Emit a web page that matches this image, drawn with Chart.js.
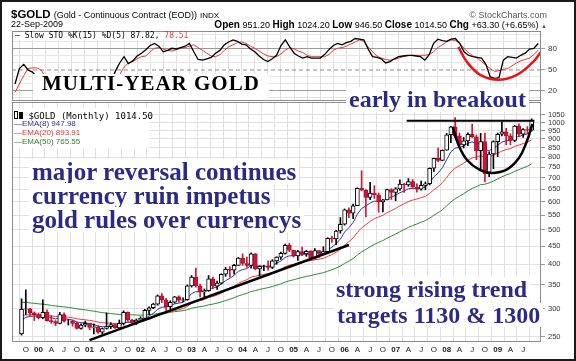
<!DOCTYPE html>
<html lang="en">
  <head>
    <title>$GOLD Monthly</title>
    <meta charset="utf-8">
    <script type="text/javascript" src="https://cdn.jsdelivr.net/npm/chart.js@4.4.1/dist/chart.umd.min.js"></script>
    <style>
      body { margin: 0; background: #fff; }
      #page { position: relative; width: 576px; height: 361px; overflow: hidden; background: #fff;
              font-family: "Liberation Sans", Arial, sans-serif; color: #000; }
      #page canvas { position: absolute; left: 0; top: 0; }
      .txt { position: absolute; white-space: nowrap; line-height: 1; }
      .mono { font-family: "DejaVu Sans Mono", monospace; }
      .serif { font-family: "Liberation Serif", "Times New Roman", serif; font-weight: bold; }
      .blue { color: #2b2b86; background: #fff; padding: 0 3px; }
      #border { position: absolute; left: 0; top: 0; width: 576px; height: 361px; box-sizing: border-box;
                border: 2px solid #1a1a1a; pointer-events: none; }
    </style>
  </head>
  <body>
  <div id="page">
    <canvas id="chart_sto" width="576" height="361"></canvas>
    <canvas id="chart_gold" width="576" height="361"></canvas>

    <!-- header -->
    <div class="txt" style="left:11px; top:9px; font-size:11.5px;"><b>$GOLD</b> <span style="font-size:9px">(Gold - Continuous Contract (EOD))</span> <span style="font-size:8px">INDX</span></div>
    <div class="txt" style="right:29px; top:11px; font-size:9px; color:#555;">&copy; StockCharts.com</div>
    <div class="txt" style="left:11px; top:20px; font-size:9px;">22-Sep-2009</div>
    <div class="txt" style="right:29px; top:19.5px; font-size:9px;"><b style="font-size:10px">Open</b> 951.20 <b style="font-size:10px">High</b> 1024.20 <b style="font-size:10px">Low</b> 946.50 <b style="font-size:10px">Close</b> 1014.50 <b style="font-size:10px">Chg</b> +63.30 (+6.65%) <span style="font-size:6px; color:#555">&#9650;</span></div>

    <!-- legends -->
    <div class="txt mono" style="left:13px; top:32px; font-size:8px; background:#fff; padding:0 2px;">&mdash; Slow STO %K(15) %D(5) 87.82, <span style="color:#e03a3a">78.51</span></div>
    <div style="position:absolute; left:13px; top:108px; width:136px; height:40px; background:#fff;"></div>
    <div class="txt mono" style="left:14px; top:110.5px; font-size:9px;"><span style="display:inline-block;width:2px;height:6px;border:1px solid #000;vertical-align:0"></span><span style="display:inline-block;width:2px;height:5px;background:#000;border:1px solid #000;vertical-align:0;margin-left:1px"></span> $GOLD (Monthly) 1014.50</div>
    <div class="txt" style="left:14px; top:120.2px; font-size:8px; color:#2f2f9e;">&mdash;EMA(8) 947.98</div>
    <div class="txt" style="left:14px; top:129.2px; font-size:8px; color:#e03434;">&mdash;EMA(20) 893.91</div>
    <div class="txt" style="left:14px; top:138.2px; font-size:8px; color:#2f7f2f;">&mdash;EMA(50) 765.55</div>

    <!-- annotations -->
    <div style="position:absolute; left:33px; top:74px; width:236px; height:26px; background:#fff;"></div>
    <div class="txt serif" style="left:42px; top:73.4px; font-size:21px; letter-spacing:1px;">MULTI-YEAR GOLD</div>
    <div class="txt serif blue" style="left:346px; top:86.9px; font-size:24px; height:25px;">early in breakout</div>
    <div class="txt serif blue" style="left:29px; top:159px; font-size:25px;">major reversal continues</div>
    <div class="txt serif blue" style="left:29px; top:183px; font-size:25px;">currency ruin impetus</div>
    <div class="txt serif blue" style="left:29px; top:207px; font-size:25px;">gold rules over currencys</div>
    <div class="txt serif blue" style="left:333px; top:277px; font-size:24px;">strong rising trend</div>
    <div class="txt serif blue" style="left:334px; top:303px; font-size:24px;">targets 1130 &amp; 1300</div>

    <div id="border"></div>
  </div>

  <script language="javascript" type="text/javascript">

    // monthly bars, index 0 = Sep 1999 ... index 120 = Sep 2009
    const opens = [
      255, 299, 300, 292,
      289, 283, 293, 278, 276, 273, 289, 277, 277, 273, 264, 270,
      273, 266, 267, 258, 264, 267, 271, 265, 273, 293, 279, 275,
      279, 282, 297, 302, 309, 326, 318, 304, 313, 324, 317, 318,
      348, 368, 348, 335, 337, 364, 347, 354, 375, 387, 385, 397,
      416, 402, 397, 428, 388, 395, 395, 392, 409, 419, 429, 452,
      438, 422, 434, 428, 435, 416, 437, 430, 434, 473, 471, 496,
      518, 569, 557, 584, 654, 646, 616, 634, 627, 599, 606, 648,
      636, 651, 672, 668, 683, 659, 650, 666, 673, 744, 794, 783,
      836, 924, 972, 917, 865, 888, 927, 912, 834, 884, 718, 816,
      884, 927, 942, 917, 891, 978, 927, 955, 951.2
    ];
    const highs = [
      320, 339, 301, 294,
      292, 318, 298, 287, 278, 293, 292, 280, 279, 275, 272, 277,
      273, 272, 269, 265, 292, 274, 272, 279, 296, 294, 280, 281,
      285, 299, 304, 311, 328, 331, 321, 316, 325, 326, 322, 350,
      372, 390, 352, 341, 372, 368, 359, 376, 392, 394, 400, 418,
      428, 419, 431, 429, 396, 397, 409, 412, 420, 433, 456, 458,
      438, 438, 447, 438, 437, 443, 438, 448, 475, 480, 498, 541,
      572, 576, 590, 656, 732, 648, 679, 665, 634, 609, 650, 652,
      657, 690, 675, 696, 692, 673, 685, 681, 746, 795, 848, 838,
      932, 975, 1033, 934, 908, 936, 990, 923, 932, 934, 828, 889,
      934, 1007, 963, 930, 982, 991, 962, 974, 1024.2
    ];
    const lows = [
      253, 289, 287, 278,
      281, 281, 277, 273, 269, 272, 275, 270, 268, 263, 263, 267,
      262, 255, 256, 255, 263, 264, 264, 264, 270, 277, 270, 271,
      277, 281, 289, 300, 307, 312, 297, 300, 311, 313, 314, 317,
      345, 345, 324, 320, 336, 341, 340, 352, 370, 368, 375, 397,
      397, 392, 390, 386, 371, 384, 385, 389, 400, 413, 427, 434,
      419, 410, 423, 421, 414, 414, 418, 430, 433, 461, 454, 489,
      515, 541, 537, 584, 644, 543, 607, 612, 560, 561, 606, 608,
      603, 645, 637, 662, 652, 638, 646, 647, 668, 729, 777, 781,
      836, 878, 908, 862, 848, 861, 907, 786, 740, 681, 705, 742,
      802, 917, 865, 866, 884, 913, 908, 931, 946.5
    ];
    const closes = [
      299, 300, 292, 289,
      283, 293, 278, 276, 273, 289, 277, 277, 273, 264, 270, 273,
      266, 267, 258, 264, 267, 271, 265, 273, 293, 279, 275, 279,
      282, 297, 302, 309, 326, 318, 304, 313, 324, 317, 318, 348,
      368, 348, 335, 337, 364, 347, 354, 375, 387, 385, 397, 416,
      402, 397, 428, 388, 395, 395, 392, 409, 419, 429, 452, 438,
      422, 434, 428, 435, 416, 437, 430, 434, 473, 471, 496, 518,
      569, 557, 584, 654, 646, 616, 634, 627, 599, 606, 648, 636,
      651, 672, 668, 683, 659, 650, 666, 673, 744, 794, 783, 836,
      924, 972, 917, 865, 888, 927, 912, 834, 884, 718, 816, 884,
      927, 942, 917, 891, 978, 927, 955, 952, 1014.5
    ];

    const ema8 = [
      279, 283.7, 285.5, 286.3,
      285.6, 287.2, 285.2, 283.2, 280.9, 282.7, 281.4, 280.4, 278.8, 275.5, 274.3, 274.0,
      272.2, 271.0, 268.1, 267.2, 267.2, 268.0, 267.3, 268.6, 274.0, 275.1, 275.1, 276.0,
      277.3, 281.7, 286.2, 291.3, 299.0, 303.2, 303.4, 305.5, 309.6, 311.2, 312.7, 320.5,
      331.1, 334.9, 334.9, 335.4, 341.7, 342.9, 345.4, 352.0, 359.8, 365.4, 372.4, 382.1,
      386.5, 388.8, 397.5, 395.4, 395.3, 395.2, 394.5, 397.7, 402.4, 408.3, 418.0, 422.4,
      422.3, 424.9, 425.6, 427.7, 425.1, 427.7, 428.2, 429.5, 439.2, 446.3, 457.3, 470.8,
      492.6, 506.9, 524.0, 552.9, 573.6, 583.0, 594.3, 601.6, 601.0, 602.1, 612.3, 617.6,
      625.0, 635.4, 642.6, 651.6, 653.2, 652.5, 655.5, 659.4, 678.2, 703.9, 721.5, 746.9,
      786.2, 827.4, 847.3, 851.2, 859.4, 874.4, 882.7, 871.9, 874.6, 839.8, 834.5, 845.5,
      863.6, 881.0, 889.0, 889.4, 909.1, 913.1, 922.4, 929.0, 947.98
    ];
    const ema20 = [
      287, 288.2, 288.6, 288.6,
      288.1, 288.6, 287.6, 286.5, 285.2, 285.6, 284.8, 284.1, 283.0, 281.2, 280.1, 279.4,
      278.2, 277.1, 275.3, 274.2, 273.5, 273.3, 272.5, 272.5, 274.5, 274.9, 274.9, 275.3,
      275.9, 277.9, 280.2, 283.0, 287.1, 290.0, 291.3, 293.4, 296.3, 298.3, 300.2, 304.7,
      310.7, 314.3, 316.3, 318.3, 322.6, 324.9, 327.7, 332.2, 337.4, 341.9, 347.1, 353.7,
      358.3, 362.0, 368.3, 370.2, 372.6, 374.7, 376.3, 379.4, 383.2, 387.6, 393.7, 397.9,
      400.2, 403.4, 405.7, 408.5, 409.2, 411.8, 413.5, 415.5, 421.0, 425.8, 432.5, 440.6,
      452.8, 462.7, 474.3, 491.4, 506.1, 516.6, 527.8, 537.2, 543.1, 549.1, 558.5, 565.9,
      574.0, 583.3, 591.4, 600.1, 605.7, 609.9, 615.2, 620.7, 632.4, 647.8, 660.7, 677.4,
      700.9, 726.7, 744.8, 756.2, 768.7, 783.8, 796.0, 799.6, 807.6, 799.1, 800.7, 808.6,
      820.0, 831.6, 839.8, 844.8, 857.6, 864.3, 873.1, 880.9, 893.91
    ];
    const ema50 = [
      313, 312.5, 311.7, 310.8,
      309.7, 309.1, 307.9, 306.6, 305.3, 304.7, 303.6, 302.6, 301.4, 300.0, 298.8, 297.8,
      296.5, 295.4, 293.9, 292.7, 291.7, 290.9, 289.9, 289.2, 289.4, 289.0, 288.4, 288.1,
      287.8, 288.2, 288.7, 289.5, 290.9, 292.0, 292.5, 293.3, 294.5, 295.4, 296.3, 298.3,
      301.0, 302.8, 304.1, 305.4, 307.7, 309.2, 311.0, 313.5, 316.4, 319.1, 322.2, 325.9,
      328.9, 331.6, 335.4, 337.5, 339.8, 342.0, 343.9, 346.5, 349.3, 352.4, 356.3, 359.5,
      362.0, 364.8, 367.3, 369.9, 371.7, 374.3, 376.5, 378.8, 382.5, 386.0, 390.3, 395.3,
      402.1, 408.2, 415.1, 424.5, 433.2, 440.4, 448.0, 455.0, 460.6, 466.3, 473.4, 479.8,
      486.5, 493.8, 500.6, 507.8, 513.7, 519.0, 524.8, 530.6, 539.0, 549.0, 558.2, 569.1,
      583.0, 598.2, 610.7, 620.7, 631.2, 642.8, 653.4, 660.5, 669.3, 671.2, 676.9, 685.0,
      694.5, 704.2, 712.5, 719.5, 729.6, 737.3, 745.8, 753.9, 765.55
    ];

    // slow stochastics %K(15) and %D(5)
    const stoK = [
      30, 52, 58, 50,
      47, 40, 33, 27, 22, 28, 30, 26, 22, 16, 15, 20,
      18, 14, 10, 15, 24, 28, 32, 48, 60, 69, 59, 63,
      70, 74, 79, 85, 88, 84, 76, 78, 81, 80, 82, 84,
      88, 76, 65, 64, 66, 68, 74, 78, 86, 90, 93, 91,
      87, 86, 80, 76, 70, 65, 62, 66, 71, 85, 93, 83,
      74, 70, 67, 69, 67, 67, 67, 72, 79, 85, 88, 86,
      89, 91, 95, 94, 93, 80, 69, 68, 66, 60, 62, 66,
      69, 70, 71, 71, 70, 69, 64, 72, 88, 94, 92, 91,
      94, 95, 88, 76, 71, 69, 68, 67, 58, 40, 38, 39,
      64, 69, 68, 67, 71, 74, 80, 81, 87.82
    ];
    const stoD = [
      18, 30, 42, 52,
      53, 53, 50, 40, 32, 28, 27, 28, 26, 21, 18, 17,
      17, 16, 14, 13, 16, 20, 25, 32, 43, 54, 60, 62,
      66, 69, 70, 76, 81, 82, 80, 78, 77, 79, 81, 82,
      84, 86, 82, 78, 74, 70, 69, 72, 78, 83, 86, 89,
      90, 88, 84, 81, 77, 73, 70, 69, 69, 73, 78, 82,
      80, 77, 75, 71, 69, 69, 69, 69, 72, 78, 81, 82,
      84, 87, 90, 93, 91, 83, 76, 70, 67, 65, 64, 65,
      67, 69, 70, 71, 71, 71, 71, 72, 76, 82, 86, 90,
      93, 92, 88, 81, 75, 70, 67, 62, 57, 52, 48, 49,
      51, 52, 56, 60, 63, 65, 67, 72, 78.51
    ];

    // quarterly month labels, first one is Oct 1999
    const tickLabels = ['O','00','A','J','O','01','A','J','O','02','A','J','O','03','A','J',
                        'O','04','A','J','O','05','A','J','O','06','A','J','O','07','A','J',
                        'O','08','A','J','O','09','A','J'];
    const priceTicks = [250, 300, 350, 400, 450, 500, 550, 600, 650, 700, 750, 800, 850, 900, 950, 1000, 1050];
    const stoTicks = [10, 20, 30, 40, 50, 60, 70, 80, 90, 100];
    const stoLabels = [20, 50, 80];
    const stoMid = 50;

    // hand drawn annotations (month index, price / sto value)
    const trendLine = [{x: 16, y: 245}, {x: 77, y: 453}];
    const resistLine = [{x: 90.6, y: 1012}, {x: 120.64, y: 1012}];
    const cupArc = [{x: 101.4, y: 972}, {x: 102.8, y: 865}, {x: 104.8, y: 785}, {x: 107.8, y: 736},
                    {x: 110.6, y: 722}, {x: 114, y: 736}, {x: 117, y: 795}, {x: 118.8, y: 882}, {x: 120.2, y: 991}];
    const stoArc = [{x: 101.7, y: 83}, {x: 103.6, y: 62}, {x: 106.7, y: 43}, {x: 110.9, y: 36},
                    {x: 115.1, y: 43}, {x: 118.9, y: 62}, {x: 120.64, y: 76}];

    const xMin = -0.69, xMax = 120.64;
    const tickIdx = tickLabels.map((_, k) => 1 + 3 * k);
    const pts = arr => arr.map((v, i) => ({x: i, y: v}));
    const isUp = i => closes[i] >= opens[i];
    const RED = '#d0143a';

    // gray frame round each panel
    const framePlugin = {
      id: 'frame',
      afterDraw(chart) {
        const {ctx, chartArea: a} = chart;
        ctx.save();
        ctx.strokeStyle = '#8c8c8c';
        ctx.lineWidth = 1;
        ctx.strokeRect(a.left + 0.5, a.top + 0.5, a.right - a.left - 1, a.bottom - a.top - 1);
        ctx.restore();
      }
    };

    const xAxis = (showLabels) => ({
      type: 'linear', min: xMin, max: xMax,
      afterBuildTicks: s => { s.ticks = tickIdx.map(v => ({value: v})); },
      ticks: {
        display: showLabels, autoSkip: false, maxRotation: 0, padding: 3, color: '#222',
        callback: (v, k) => tickLabels[k],
        font: c => ({family: '"Liberation Sans", Arial', size: 8, weight: (tickLabels[c.index] || '').length === 2 ? 'bold' : 'normal'})
      },
      grid: {color: '#e0e0e0', drawTicks: false},
      border: {display: false},
      afterFit: s => { s.height = showLabels ? 14 : 0; }
    });

    Chart.defaults.font.family = '"Liberation Sans", Arial, sans-serif';

    new Chart('chart_sto', {
      type: 'line',
      data: {
        datasets: [
          { data: pts(stoK), borderColor: '#000', borderWidth: 1.3, pointRadius: 0, order: 2 },
          { data: pts(stoD), borderColor: '#e03a3a', borderWidth: 1, pointRadius: 0, order: 3 },
          { data: [{x: xMin, y: stoMid}, {x: xMax, y: stoMid}], borderColor: '#8a8a8a', borderWidth: 1,
            borderDash: [4, 3], pointRadius: 0, order: 4 },
          { data: stoArc, borderColor: '#e01818', borderWidth: 2.5, pointRadius: 0, tension: 0.4, order: 0 }
        ]
      },
      options: {
        responsive: false, animation: false, events: [],
        layout: {padding: {left: 12, right: 0, top: 31, bottom: 260}},
        plugins: {legend: {display: false}, tooltip: {enabled: false}},
        scales: {
          x: xAxis(false),
          y: {
            position: 'right', min: 5.7, max: 105.7,
            afterBuildTicks: s => { s.ticks = stoTicks.map(v => ({value: v})); },
            ticks: {autoSkip: false, padding: 3, color: '#333', font: {size: 8},
                    callback: v => stoLabels.includes(v) ? String(v) : ''},
            grid: {
              tickLength: 4,
              color: c => stoLabels.includes(c.tick.value) ? (c.tick.value === stoMid ? 'rgba(0,0,0,0)' : '#9a9a9a') : '#e6e6e6',
              tickColor: c => stoLabels.includes(c.tick.value) ? '#9a9a9a' : 'rgba(0,0,0,0)'
            },
            border: {display: false},
            afterFit: s => { s.width = 35; }
          }
        }
      },
      plugins: [framePlugin]
    });

    new Chart('chart_gold', {
      type: 'line',
      data: {
        datasets: [
          { data: pts(ema8), borderColor: '#3434a8', borderWidth: 1, pointRadius: 0, order: 3 },
          { data: pts(ema20), borderColor: '#ec3c3c', borderWidth: 1, pointRadius: 0, order: 4 },
          { data: pts(ema50), borderColor: '#2f8a2f', borderWidth: 1, pointRadius: 0, order: 5 },
          { type: 'bar', grouped: false, order: 2, barThickness: 1,
            data: lows.map((l, i) => ({x: i, y: [l, highs[i]]})),
            backgroundColor: opens.map((o, i) => isUp(i) ? '#000' : RED) },
          { type: 'bar', grouped: false, order: 1, barThickness: 4, borderWidth: 1, borderSkipped: false,
            data: opens.map((o, i) => ({x: i, y: [Math.min(o, closes[i]), Math.max(o, closes[i])]})),
            backgroundColor: opens.map((o, i) => isUp(i) ? '#fff' : RED),
            borderColor: opens.map((o, i) => isUp(i) ? '#000' : '#a8102c') },
          { data: trendLine, borderColor: '#000', borderWidth: 2.5, pointRadius: 0, order: 0 },
          { data: resistLine, borderColor: '#000', borderWidth: 2, pointRadius: 0, order: 0 },
          { data: cupArc, borderColor: '#000', borderWidth: 2.5, pointRadius: 0, tension: 0.4, order: 0 }
        ]
      },
      options: {
        responsive: false, animation: false, events: [],
        layout: {padding: {left: 12, right: 0, top: 102, bottom: 5}},
        plugins: {legend: {display: false}, tooltip: {enabled: false}},
        scales: {
          x: xAxis(true),
          y: {
            type: 'logarithmic', position: 'right', min: 242, max: 1142,
            afterBuildTicks: s => { s.ticks = priceTicks.map(v => ({value: v})); },
            ticks: {autoSkip: false, padding: 3, color: '#333', font: {size: 7.5}, callback: v => String(v)},
            grid: {color: '#e0e0e0', tickLength: 4, tickColor: '#9a9a9a'},
            border: {display: false},
            afterFit: s => { s.width = 35; }
          }
        }
      },
      plugins: [framePlugin]
    });

  </script>
  </body>
</html>
